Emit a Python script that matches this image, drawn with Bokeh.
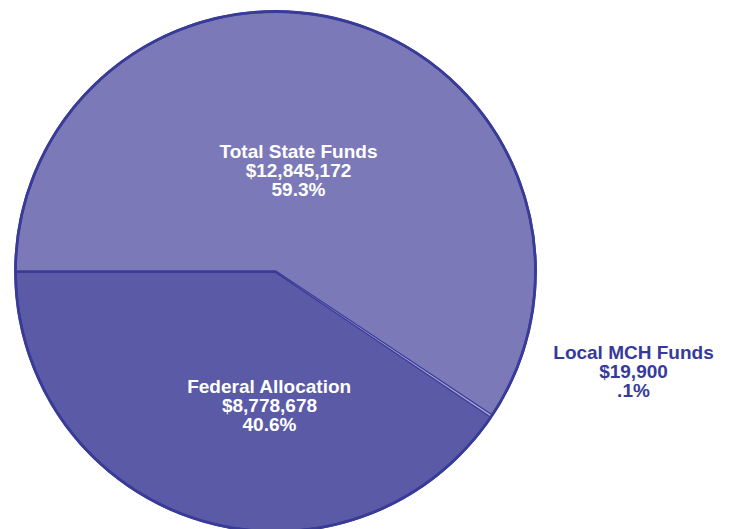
import math
from bokeh.plotting import figure
from bokeh.models import Range1d, ColumnDataSource
from bokeh.embed import file_html
from bokeh.resources import INLINE
from bokeh.core.properties import value

# ---- data ----
categories = ["Federal Allocation", "Local MCH Funds", "Total State Funds"]
amounts = [8778678, 19900, 12845172]
amount_labels = ["$8,778,678", "$19,900", "$12,845,172"]
percent_labels = ["40.6%", ".1%", "59.3%"]

# ---- styles / layout ----
fill_colors = ["#5A5AA6", "#A9A8D8", "#7B79B8"]
text_colors = ["#FFFFFF", "#363A9A", "#FFFFFF"]
outline = "#383B98"
W, H = 731, 529
cx, cy, R = 275, H - 271, 260
# label anchor positions (screen pixels, y from top)
label_pos = [(269, 405), (633, 371), (298, 170)]

p = figure(width=W, height=H, x_range=Range1d(0, W), y_range=Range1d(0, H),
           output_backend="svg", toolbar_location=None, min_border=0)
p.axis.visible = False
p.grid.visible = False
p.outline_line_color = None
p.background_fill_color = "white"
p.border_fill_color = "white"

total = float(sum(amounts))
starts, ends = [], []
a = math.pi
for v in amounts:
    starts.append(a)
    a += 2 * math.pi * v / total
    ends.append(a)

# main slices with dark outlines
main = ColumnDataSource(dict(x=[cx, cx], y=[cy, cy], start=[starts[0], starts[2]],
                             end=[ends[0], ends[2]], fill=[fill_colors[0], fill_colors[2]]))
p.wedge(x="x", y="y", radius=R, start_angle="start", end_angle="end", direction="anticlock",
        fill_color="fill", line_color=outline, line_width=2.5, source=main)
small = ColumnDataSource(dict(x=[cx], y=[cy], start=[starts[1]], end=[ends[1]], fill=[fill_colors[1]]))
p.wedge(x="x", y="y", radius=R, start_angle="start", end_angle="end", direction="anticlock",
        fill_color="fill", line_color=None, source=small)
p.circle(x=[cx], y=[cy], radius=R, fill_color=None, line_color=outline, line_width=2.8)

texts = [f"{c}\n{a}\n{pc}" for c, a, pc in zip(categories, amount_labels, percent_labels)]
tsrc = ColumnDataSource(dict(x=[lp[0] for lp in label_pos], y=[H - lp[1] for lp in label_pos],
                             t=texts, c=text_colors))
p.text(x="x", y="y", text="t", text_color="c", source=tsrc,
       text_font=value("Liberation Sans"), text_font_style="bold", text_font_size="19px",
       text_align="center", text_baseline="middle", text_line_height=0.9)

open("out.html", "w").write(file_html(p, INLINE))
